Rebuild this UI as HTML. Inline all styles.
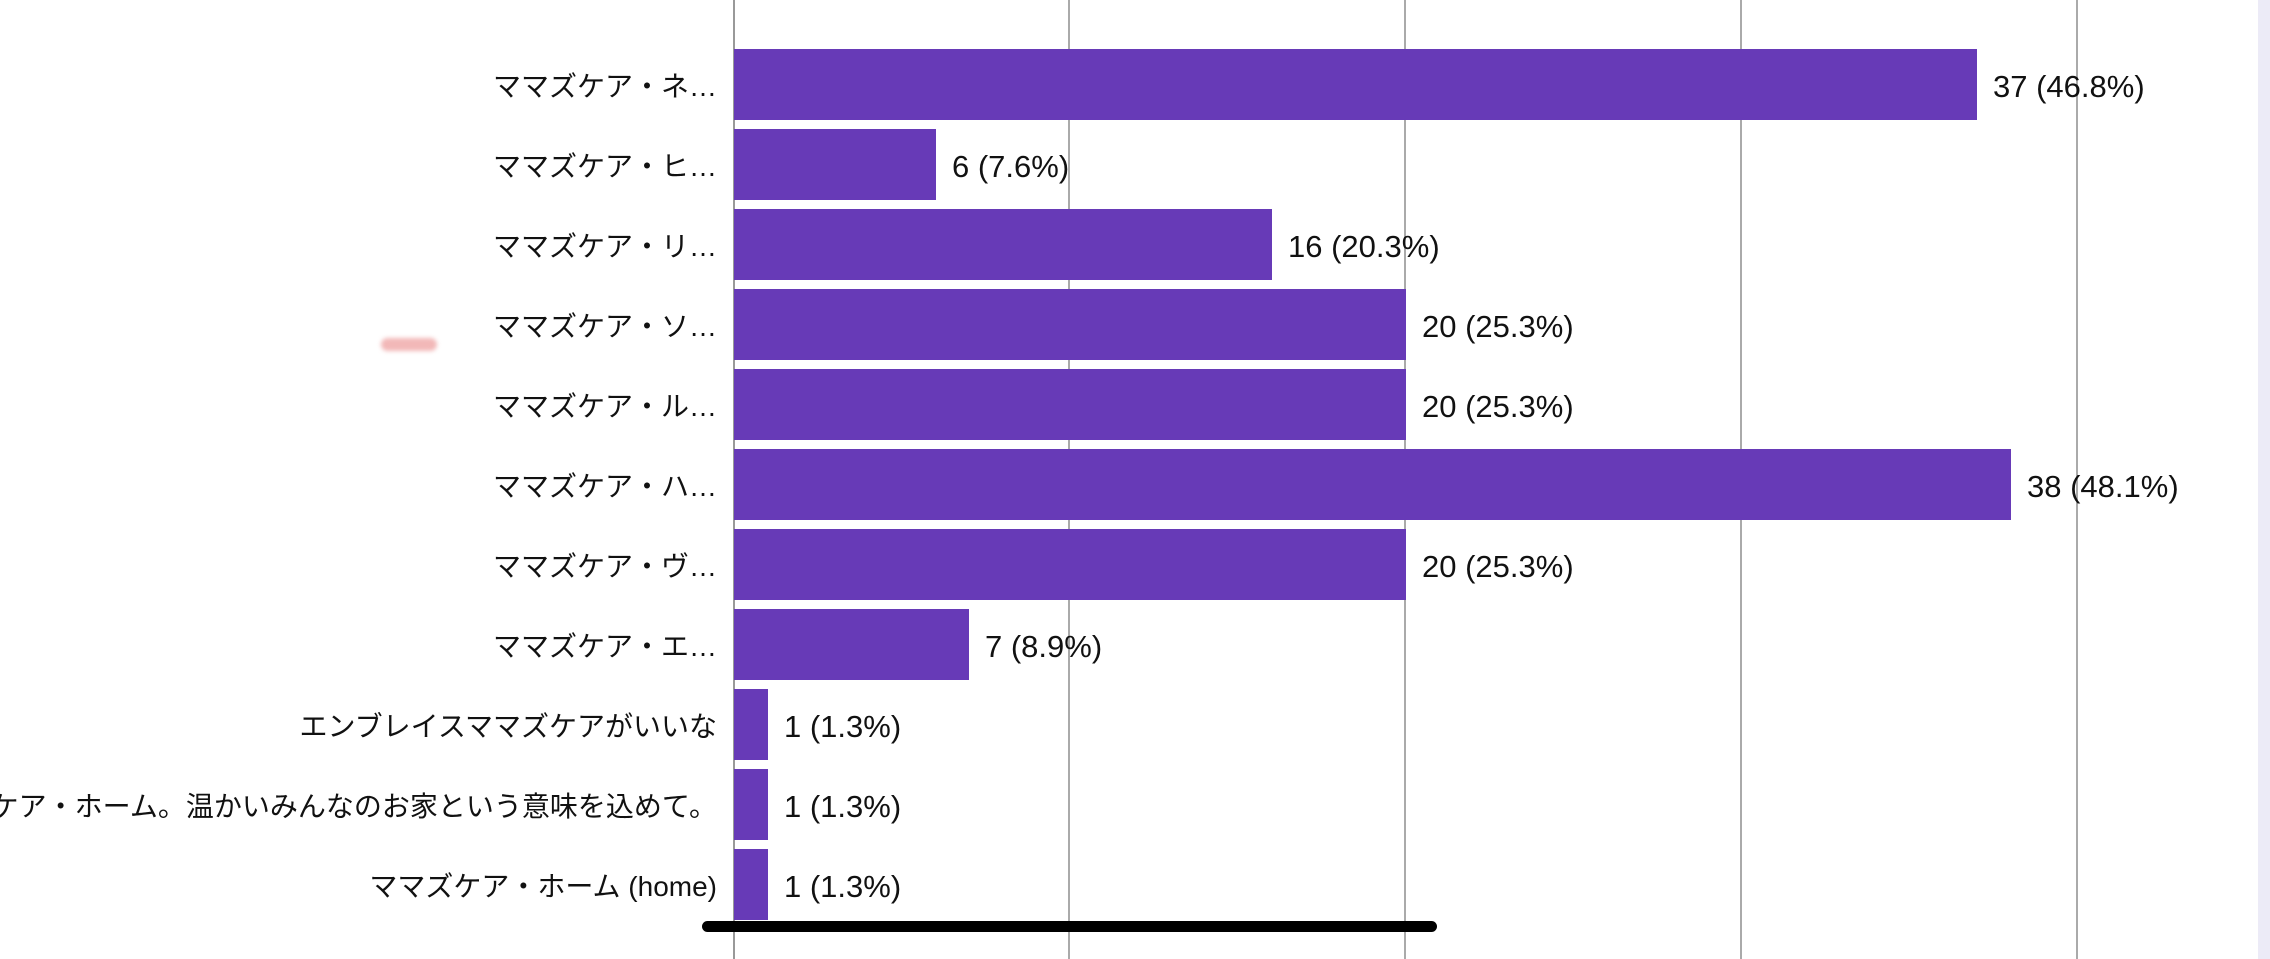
<!DOCTYPE html>
<html><head><meta charset="utf-8"><style>
body{margin:0;width:2270px;height:959px;background:#fff;position:relative;overflow:hidden;font-family:"Liberation Sans","Noto Sans CJK JP",sans-serif;}
.g{position:absolute;top:0;height:959px;width:2px;background:#aaa;}
.b{position:absolute;left:734px;height:71px;background:#673ab7;}
.l{position:absolute;right:1553px;font-size:28px;color:#111;white-space:nowrap;line-height:32px;}
.v{position:absolute;font-size:31px;color:#111;white-space:nowrap;line-height:32px;}
</style></head><body>
<div class="g" style="left:733px;background:#999"></div>
<div class="g" style="left:1068px"></div>
<div class="g" style="left:1404px"></div>
<div class="g" style="left:1740px"></div>
<div class="g" style="left:2076px"></div>
<div style="position:absolute;left:2258px;top:0;width:12px;height:959px;background:#ecebf7"></div>
<div style="position:absolute;left:381px;top:338px;width:56px;height:13px;border-radius:7px;background:#f2b8b8;filter:blur(2px)"></div>
<div id="c"></div>
<script>
var d=[["ママズケア・ネ…",37,"37 (46.8%)"],["ママズケア・ヒ…",6,"6 (7.6%)"],["ママズケア・リ…",16,"16 (20.3%)"],["ママズケア・ソ…",20,"20 (25.3%)"],["ママズケア・ル…",20,"20 (25.3%)"],["ママズケア・ハ…",38,"38 (48.1%)"],["ママズケア・ヴ…",20,"20 (25.3%)"],["ママズケア・エ…",7,"7 (8.9%)"],["エンブレイスママズケアがいいな",1,"1 (1.3%)"],["ママズケア・ホーム。温かいみんなのお家という意味を込めて。",1,"1 (1.3%)"],["ママズケア・ホーム (home)",1,"1 (1.3%)"]];
var h="";
d.forEach(function(r,i){var t=49+80*i,w=Math.round(r[1]*33.6);
h+='<div class="b" style="top:'+t+'px;width:'+w+'px"></div>';
h+='<div class="l" style="top:'+(t+22)+'px">'+r[0]+'</div>';
h+='<div class="v" style="left:'+(734+w+16)+'px;top:'+(t+22)+'px">'+r[2]+'</div>';});
document.getElementById("c").innerHTML=h;
</script>
<div style="position:absolute;left:702px;top:921px;width:735px;height:11px;border-radius:6px;background:#000"></div>
</body></html>
